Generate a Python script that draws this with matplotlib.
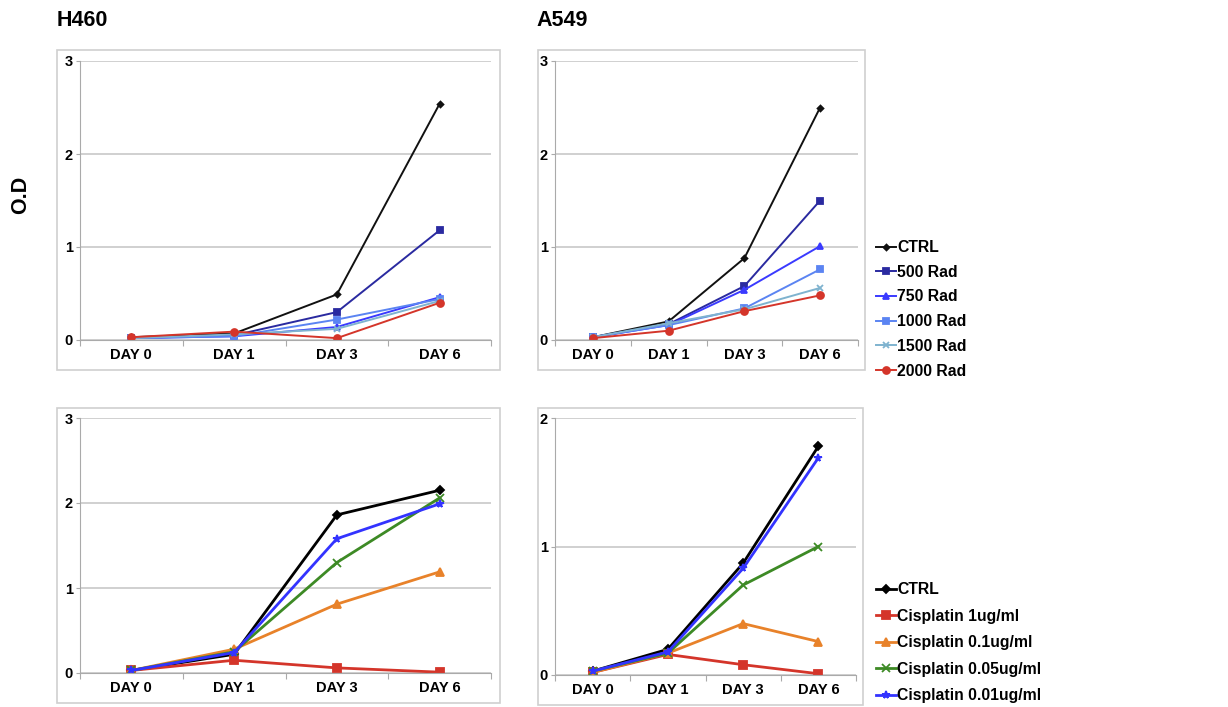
import matplotlib
matplotlib.use('Agg')
import matplotlib.pyplot as plt
from matplotlib.patches import Rectangle

plt.rcParams['font.family'] = ['Liberation Sans', 'DejaVu Sans']
plt.rcParams['font.weight'] = 'bold'

days = ['DAY 0', 'DAY 1', 'DAY 3', 'DAY 6']

# radiation series
rad_labels = ['CTRL', '500 Rad', '750 Rad', '1000 Rad', '1500 Rad', '2000 Rad']
h460_rad = [
    [0.03, 0.07, 0.49, 2.54],
    [0.02, 0.05, 0.30, 1.18],
    [0.02, 0.04, 0.14, 0.46],
    [0.02, 0.04, 0.22, 0.44],
    [0.02, 0.06, 0.12, 0.42],
    [0.03, 0.09, 0.02, 0.40],
]
a549_rad = [
    [0.03, 0.20, 0.88, 2.50],
    [0.03, 0.17, 0.58, 1.50],
    [0.03, 0.16, 0.54, 1.01],
    [0.03, 0.16, 0.34, 0.76],
    [0.03, 0.18, 0.33, 0.56],
    [0.02, 0.10, 0.31, 0.48],
]

# cisplatin series
cis_labels = ['CTRL', 'Cisplatin 1ug/ml', 'Cisplatin 0.1ug/ml',
              'Cisplatin 0.05ug/ml', 'Cisplatin 0.01ug/ml']
h460_cis = [
    [0.03, 0.22, 1.86, 2.15],
    [0.03, 0.15, 0.06, 0.01],
    [0.03, 0.28, 0.81, 1.19],
    [0.03, 0.25, 1.30, 2.06],
    [0.03, 0.24, 1.58, 1.99],
]
a549_cis = [
    [0.03, 0.20, 0.87, 1.78],
    [0.02, 0.16, 0.08, 0.01],
    [0.02, 0.17, 0.40, 0.26],
    [0.03, 0.17, 0.70, 1.00],
    [0.03, 0.18, 0.83, 1.69],
]

rad_style = [
    ('#111111', 'D', 3),
    ('#2a2aa0', 's', 4.5),
    ('#3a3aff', '^', 5),
    ('#5b84f2', 's', 4.5),
    ('#7fb3cf', 'x', 4.5),
    ('#d4352a', 'o', 5),
]
cis_style = [
    ('#000000', 'D', 4),
    ('#d4352a', 's', 5.5),
    ('#e8822a', '^', 5.5),
    ('#3d8a25', 'x', 5.5),
    ('#3333ff', '*', 5.5),
]

W, H = 1228, 707
fig = plt.figure(figsize=(W / 100, H / 100), dpi=100)


def px_axes(x0, y0, x1, y1):
    return fig.add_axes([x0 / W, 1 - y1 / H, (x1 - x0) / W, (y1 - y0) / H])


def frame(x0, y0, x1, y1):
    fig.patches.append(Rectangle((x0 / W, 1 - y1 / H), (x1 - x0) / W, (y1 - y0) / H,
                                 transform=fig.transFigure, fill=False,
                                 edgecolor='#cfcfcf', lw=1.2))


def panel(ax, data, styles, ymax, lw):
    xs = [0.5, 1.5, 2.5, 3.5]
    lines = []
    for vals, (c, m, ms) in zip(data, styles):
        ln, = ax.plot(xs, vals, color=c, marker=m, ms=ms, lw=lw, mew=1.3)
        lines.append(ln)
    ax.set_xlim(0, 4)
    ax.set_ylim(0, ymax)
    ax.set_yticks(range(ymax + 1))
    ax.set_xticks([0, 1, 2, 3, 4])
    ax.set_xticklabels([])
    ax.set_xticks(xs, minor=True)
    ax.set_xticklabels(days, minor=True)
    ax.tick_params(axis='x', which='major', length=4, direction='out', color='#aaaaaa')
    ax.tick_params(axis='x', which='minor', length=0, pad=6, labelsize=10.5)
    ax.tick_params(axis='y', length=3, color='#aaaaaa', labelsize=10.5, pad=2)
    ax.yaxis.grid(True, color='#c8c8c8', lw=1.2)
    ax.set_axisbelow(True)
    for s in ('top', 'right'):
        ax.spines[s].set_visible(False)
    for s in ('left', 'bottom'):
        ax.spines[s].set_color('#aaaaaa')
    return lines


frame(57, 50, 500, 370)
frame(538, 50, 865, 370)
frame(57, 408, 500, 703)
frame(538, 408, 863, 705)

ax1 = px_axes(80, 61, 491, 340)
ax2 = px_axes(555, 61, 858, 340)
ax3 = px_axes(80, 418, 491, 673)
ax4 = px_axes(555, 418, 856, 675)

panel(ax1, h460_rad, rad_style, 3, 1.4)
rad_lines = panel(ax2, a549_rad, rad_style, 3, 1.4)
panel(ax3, h460_cis, cis_style, 3, 2.0)
cis_lines = panel(ax4, a549_cis, cis_style, 2, 2.0)

fig.text(57 / W, 1 - 20 / H, 'H460', fontsize=15.5, fontweight='bold', va='center', ha='left')
fig.text(536 / W, 1 - 20 / H, 'A549', fontsize=15.5, fontweight='bold', va='center', ha='left')
fig.text(21 / W, 1 - 195 / H, 'O.D', fontsize=15.5, fontweight='bold', rotation=90,
         va='center', ha='center')

leg_font = {'weight': 'bold', 'size': 11.3}
fig.legend(rad_lines, rad_labels, loc='upper left', bbox_to_anchor=(876 / W, 1 - 240 / H),
           frameon=False, prop=leg_font, handlelength=1.25, handletextpad=0.1,
           labelspacing=0.62, borderpad=0, borderaxespad=0)
fig.legend(cis_lines, cis_labels, loc='upper left', bbox_to_anchor=(876 / W, 1 - 582 / H),
           frameon=False, prop=leg_font, handlelength=1.25, handletextpad=0.1,
           labelspacing=0.74, borderpad=0, borderaxespad=0)

fig.savefig('out.png', dpi=100)
